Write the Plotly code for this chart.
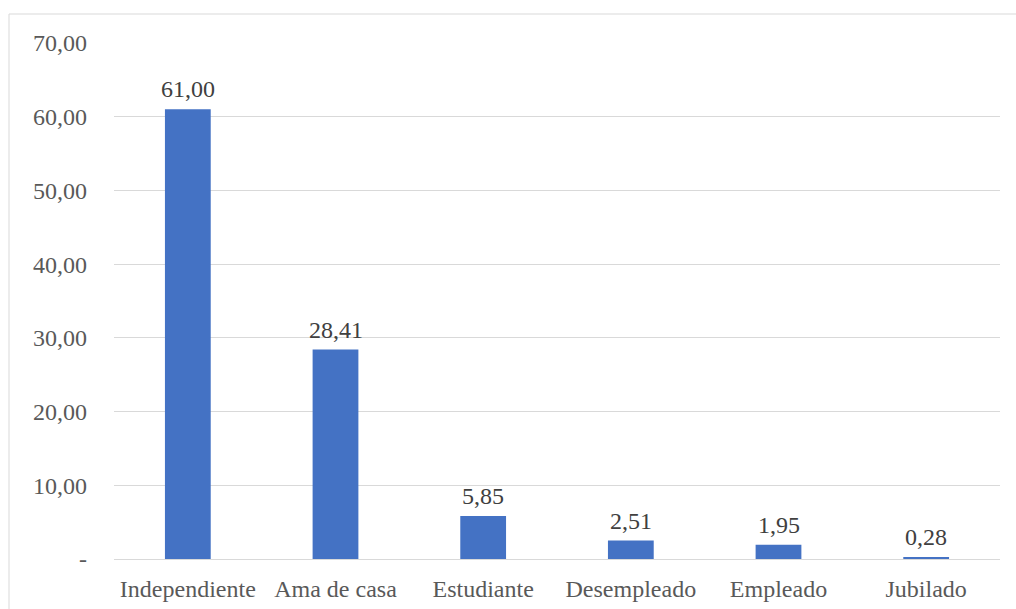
import plotly.graph_objects as go

categorias = ["Independiente", "Ama de casa", "Estudiante", "Desempleado", "Empleado", "Jubilado"]
porcentajes = [61.00, 28.41, 5.85, 2.51, 1.95, 0.28]
ticks_y = [0, 10, 20, 30, 40, 50, 60, 70]
etiquetas_y = ["-", "10,00", "20,00", "30,00", "40,00", "50,00", "60,00", "70,00"]

fuente = "Liberation Serif, Times New Roman, serif"
tam = 24

fig = go.Figure(
    go.Bar(
        x=categorias,
        y=porcentajes,
        marker=dict(color="#4472C4", line=dict(width=0)),
        width=0.31,
        hoverinfo="x+y",
    )
)

# value labels above each bar
for cat, val in zip(categorias, porcentajes):
    fig.add_annotation(
        x=cat,
        y=val,
        text=f"{val:.2f}".replace(".", ","),
        showarrow=False,
        yanchor="bottom",
        yshift=5,
        font=dict(family=fuente, size=tam, color="#404040"),
    )

fig.update_layout(
    width=1016,
    height=609,
    margin=dict(l=114, r=16, t=43, b=50),
    plot_bgcolor="white",
    paper_bgcolor="white",
    showlegend=False,
    font=dict(family=fuente, size=tam, color="#595959"),
    xaxis=dict(
        showgrid=False,
        showline=False,
        ticks="",
        automargin=False,
        ticklabelstandoff=13,
        tickfont=dict(family=fuente, size=tam, color="#595959"),
    ),
    yaxis=dict(
        range=[0, 70],
        tickvals=ticks_y,
        ticktext=etiquetas_y,
        showgrid=True,
        gridcolor="#d9d9d9",
        gridwidth=1,
        zeroline=True,
        zerolinecolor="#d9d9d9",
        zerolinewidth=1,
        showline=False,
        ticks="",
        automargin=False,
        ticklabelstandoff=26,
        tickfont=dict(family=fuente, size=tam, color="#595959"),
    ),
    shapes=[
        dict(
            type="rect",
            xref="paper",
            yref="paper",
            x0=-0.1185,
            x1=1.05,
            y0=-0.2,
            y1=1.0562,
            line=dict(color="#d9d9d9", width=1),
            fillcolor="rgba(0,0,0,0)",
            layer="below",
        )
    ],
)

fig.write_html("out.html")
